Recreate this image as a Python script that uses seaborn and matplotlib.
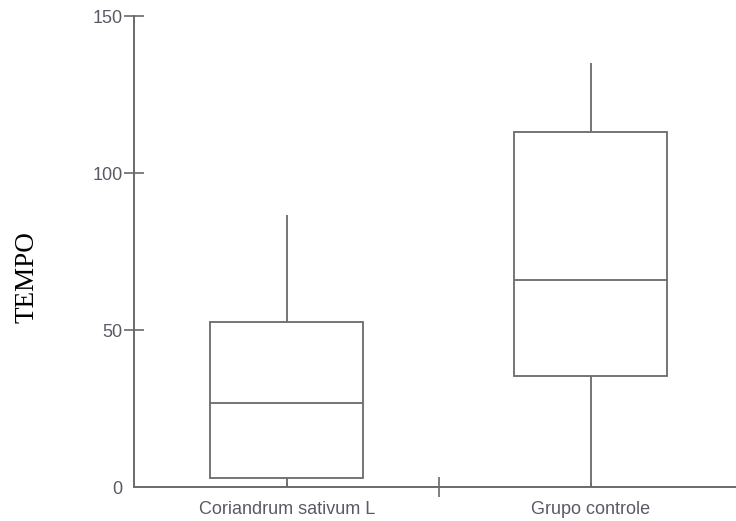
import matplotlib
matplotlib.use("Agg")
import matplotlib.pyplot as plt
import seaborn as sns
import pandas as pd
from matplotlib.ticker import FixedLocator

# Values (min, Q1, median, Q3, max)
groups = ["Coriandrum sativum L", "Grupo controle"]
coriandrum = [0.0, 2.9, 26.8, 52.5, 86.6]
controle = [0.0, 35.3, 65.9, 113.0, 135.0]
yticks = [0, 50, 100, 150]

df = pd.DataFrame({
    "grupo": [groups[0]] * len(coriandrum) + [groups[1]] * len(controle),
    "TEMPO": coriandrum + controle,
})

sns.set_style("ticks")
plt.rcParams["font.family"] = ["Liberation Sans", "DejaVu Sans"]

line_c = "#6a6a6a"
text_c = "#5a5a66"

fig = plt.figure(figsize=(7.36, 5.21), dpi=100)
ax = fig.add_axes([0.182, 0.065, 0.818, 0.904])

sns.boxplot(data=df, x="grupo", y="TEMPO", ax=ax, color="white",
            linecolor=line_c, linewidth=1.3, width=0.503,
            whis=(0, 100), showcaps=False, fliersize=0)

ax.set_ylim(0, 150)
ax.set_xlim(-0.503, 1.477)
ax.set_yticks(yticks)
ax.set_yticklabels([str(v) for v in yticks])

ax.spines["top"].set_visible(False)
ax.spines["right"].set_visible(False)
for s in ("left", "bottom"):
    ax.spines[s].set_color(line_c)
    ax.spines[s].set_linewidth(1.4)

ax.tick_params(axis="y", direction="inout", length=14.4, width=1.2,
               color=line_c, labelcolor=text_c, labelsize=13, pad=1)
ax.yaxis.get_major_ticks()[0].tick1line.set_visible(False)
ax.tick_params(axis="x", which="major", direction="in", length=3, width=1.2,
               color=line_c, labelcolor=text_c, labelsize=13, pad=10)
ax.xaxis.set_minor_locator(FixedLocator([0.5]))
ax.tick_params(axis="x", which="minor", direction="inout", length=15,
               width=1.2, color=line_c)

for lbl in ax.get_yticklabels():
    lbl.set_clip_on(False)

ax.set_xlabel("")
ax.set_ylabel("TEMPO", family=["Liberation Serif", "DejaVu Serif"],
              fontsize=19.5, color="#000000")
ax.yaxis.set_label_coords(-0.157, 0.446)

fig.savefig("out.png", dpi=100)
